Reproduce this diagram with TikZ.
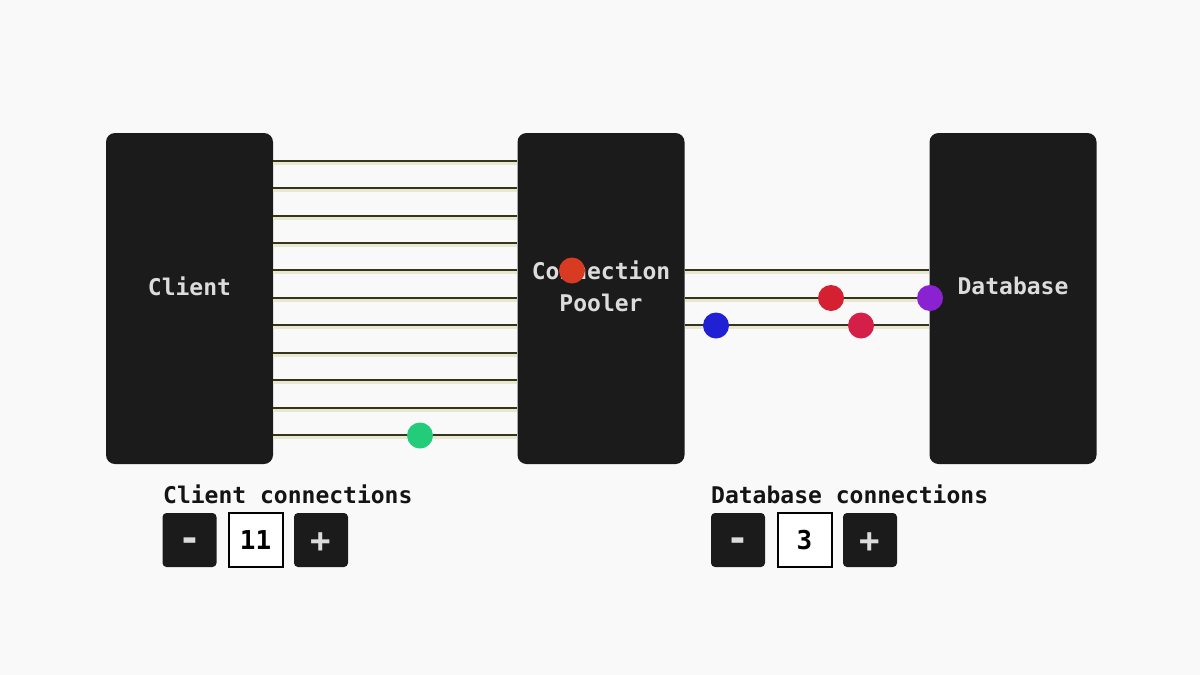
\documentclass[tikz,border=0pt]{standalone}
\usepackage{fontspec}
\setmonofont{DejaVu Sans Mono}
\begin{document}
\begin{tikzpicture}[x=1pt,y=-1pt,
  box/.style={draw=none,fill=boxc,rounded corners=9pt,minimum width=167pt,minimum height=331pt,inner sep=0pt},
  boxlabel/.style={inner sep=0pt,text=labc,font=\ttfamily\bfseries\fontsize{23}{32}\selectfont,align=center},
  btn/.style={fill=boxc,rounded corners=4pt,minimum width=54pt,minimum height=54pt,inner sep=0pt},
  btnlabel/.style={inner sep=0pt,text=labc,font=\ttfamily\bfseries\fontsize{34}{34}\selectfont},
  numbox/.style={draw=black,line width=2pt,fill=white,minimum width=54pt,minimum height=54pt,inner sep=0pt,
    font=\ttfamily\bfseries\fontsize{26}{26}\selectfont},
  caplabel/.style={anchor=west,inner sep=0pt,font=\ttfamily\bfseries\fontsize{23}{23}\selectfont,text=black!92},
  glow/.style={line width=4pt,draw=glowc},
  wire/.style={line width=2.2pt,draw=wirec},
  dot/.style={circle,inner sep=0pt,minimum size=26pt,fill=#1}
]
\definecolor{bg}{HTML}{F9F9F9}
\definecolor{boxc}{HTML}{1B1B1B}
\definecolor{labc}{HTML}{DCDCDC}
\definecolor{glowc}{HTML}{E9E7D2}
\definecolor{wirec}{HTML}{35351C}
\definecolor{dred}{HTML}{D83A22}
\definecolor{dgreen}{HTML}{22CC7A}
\definecolor{dblue}{HTML}{2020D4}
\definecolor{dred2}{HTML}{D42030}
\definecolor{dcrim}{HTML}{D42048}
\definecolor{dpurp}{HTML}{8A22D2}
\fill[bg] (0,0) rectangle (1200,675);
\useasboundingbox (0,0) rectangle (1200,675);

\node[box] (client) at (189.5,298.5) {};
\node[box] (pooler) at (601,298.5) {};
\node[box] (db) at (1013,298.5) {};
\node[boxlabel] (clientlab) at ([yshift=12.5pt]client.center) {Client};
\node[boxlabel] (poolerlab) at ([yshift=12.5pt]pooler.center) {Connection\\Pooler};
\node[boxlabel] (dblab) at ([yshift=12.5pt]db.center) {Database};

\foreach \y [count=\i] in {161,188,216,243,270,298,325,353,380,408,435} {
  \coordinate (r\i) at (0,\y);
  \draw[glow] ([yshift=-1.5pt]client.east |- r\i) -- ([yshift=-1.5pt]pooler.west |- r\i);
  \draw[wire] (client.east |- r\i) -- (pooler.west |- r\i);
}
\foreach \y [count=\i] in {270,298,325} {
  \coordinate (d\i) at (0,\y);
  \draw[glow] ([yshift=-1.5pt]pooler.east |- d\i) -- ([yshift=-1.5pt]db.west |- d\i);
  \draw[wire] (pooler.east |- d\i) -- (db.west |- d\i);
}

\node[dot=dred] (p1) at (572,270.5) {};
\node[dot=dgreen] (p2) at (420,435.5) {};
\node[dot=dblue] (p3) at (716,325.5) {};
\node[dot=dred2] (p4) at (831,298) {};
\node[dot=dcrim] (p5) at (861,325.5) {};
\node[dot=dpurp] (p6) at (930,298) {};

\node[caplabel] (cc) at (163,494) {Client connections};
\node[caplabel] (dc) at (711,494) {Database connections};

\node[btn] (cminus) at (189.5,540) {};
\node[btnlabel,font=\ttfamily\bfseries\fontsize{38}{38}\selectfont] (cminuslab) at ([yshift=-5pt]cminus.center) {-};
\node[numbox] (cnum) at (255.5,540) {11};
\node[btn] (cplus) at (321,540) {};
\node[btnlabel] (cpluslab) at ([yshift=-2.5pt]cplus.center) {+};

\node[btn] (dminus) at (738,540) {};
\node[btnlabel,font=\ttfamily\bfseries\fontsize{38}{38}\selectfont] (dminuslab) at ([yshift=-5pt]dminus.center) {-};
\node[numbox] (dnum) at (804.5,540) {3};
\node[btn] (dplus) at (870,540) {};
\node[btnlabel] (dpluslab) at ([yshift=-2.5pt]dplus.center) {+};
\end{tikzpicture}
\end{document}
